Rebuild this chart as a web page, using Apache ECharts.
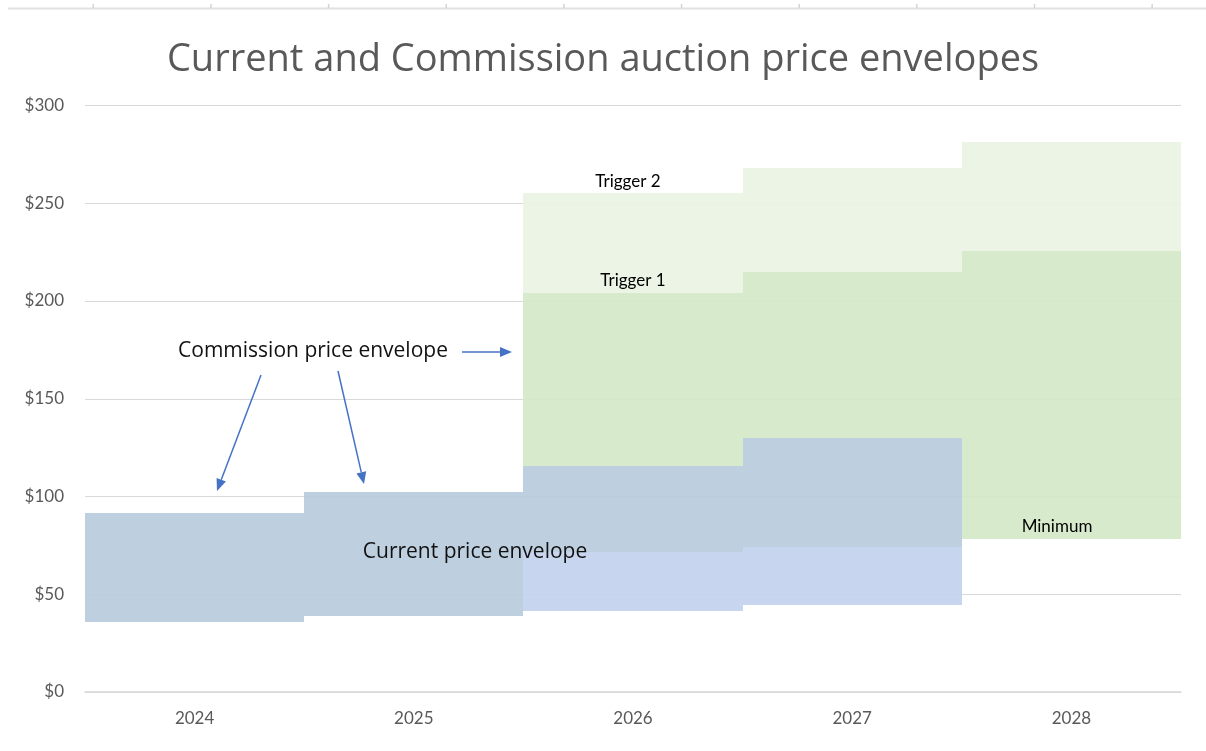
<!DOCTYPE html>
<html>
<head>
<meta charset="utf-8">
<script src="https://cdn.jsdelivr.net/npm/echarts@6/dist/echarts.min.js"></script>
<style>
  html, body { margin: 0; padding: 0; background: #fff; }
  #main { width: 1206px; height: 751px; }
</style>
</head>
<body>
<div id="main"></div>
<script>
// years on the x axis
var years = ['2024', '2025', '2026', '2027', '2028'];
var yTicks = [0, 50, 100, 150, 200, 250, 300];

// current price envelope (low / high), none for 2028
var currentLow  = [35.9, 38.9, 41.6, 44.5, null];
var currentHigh = [91.4, 102.4, 115.7, 129.7, null];

// commission envelope: same as current for 2024-25
var commissionMin = [35.9, 38.9, 71.7, 74.3, 78.4];
var trigger1      = [91.4, 102.4, 204.1, 214.6, 225.6];
var trigger2      = [null, null, 255.0, 268.0, 281.3];

// split everything into non overlapping pieces [index, low, high]
var onlyCurrent = [];   // current price below the commission minimum
var bothEnv = [];       // current and commission overlap
var greenPart = [];     // commission min -> trigger 1 (not covered by current)
var lightPart = [];     // trigger 1 -> trigger 2
for (var i = 0; i < years.length; i++) {
    var cl = currentLow[i], ch = currentHigh[i];
    var cm = commissionMin[i], t1 = trigger1[i], t2 = trigger2[i];
    if (cl != null) {
        if (cm > cl) onlyCurrent.push([i, cl, Math.min(cm, ch)]);
        var lo = Math.max(cl, cm), hi = Math.min(ch, t1);
        if (hi > lo) bothEnv.push([i, lo, hi]);
        if (t1 > ch) greenPart.push([i, Math.max(ch, cm), t1]);
    } else {
        greenPart.push([i, cm, t1]);
    }
    if (t2 != null) lightPart.push([i, t1, t2]);
}

function bandSeries(name, data, color) {
    return {
        name: name,
        type: 'custom',
        data: data,
        encode: { x: 0, y: [1, 2] },
        renderItem: function (params, api) {
            var p0 = api.coord([api.value(0), api.value(1)]);
            var p1 = api.coord([api.value(0), api.value(2)]);
            var w = api.size([1, 0])[0];
            // snap to whole pixels so neighbouring blocks join without seams
            var x0 = Math.round(p0[0] - w / 2), x1 = Math.round(p0[0] + w / 2);
            var yTop = Math.round(p1[1]), yBot = Math.round(p0[1]);
            return {
                type: 'rect',
                shape: { x: x0, y: yTop, width: x1 - x0, height: yBot - yTop },
                style: { fill: color }
            };
        }
    };
}

var chart = echarts.init(document.getElementById('main'));

var ticksTop = [];
for (var k = 0; k < 10; k++) {
    var tx = 93.3 + k * 117.65;
    ticksTop.push({ type: 'line', shape: { x1: tx, y1: 4, x2: tx, y2: 8 }, style: { stroke: '#d4d4d4', lineWidth: 1.5 } });
}

var arrowColor = '#4472c4';
function arrow(x1, y1, x2, y2) {
    var ang = Math.atan2(y2 - y1, x2 - x1);
    var len = 12, half = 5;
    var bx = x2 - len * Math.cos(ang), by = y2 - len * Math.sin(ang);
    var nx = -Math.sin(ang) * half, ny = Math.cos(ang) * half;
    return [
        { type: 'line', shape: { x1: x1, y1: y1, x2: bx, y2: by }, style: { stroke: arrowColor, lineWidth: 1.5 } },
        { type: 'polygon', shape: { points: [[x2, y2], [bx + nx, by + ny], [bx - nx, by - ny]] }, style: { fill: arrowColor } }
    ];
}

var notes = [
    { type: 'line', shape: { x1: 8, y1: 8.5, x2: 1206, y2: 8.5 }, style: { stroke: '#e0e0e0', lineWidth: 2 } }
].concat(ticksTop).concat([
    { type: 'text', x: 628, y: 182, style: { text: 'Trigger 2', fill: '#000', font: '17px Lato', align: 'center', verticalAlign: 'middle' } },
    { type: 'text', x: 633, y: 281, style: { text: 'Trigger 1', fill: '#000', font: '17px Lato', align: 'center', verticalAlign: 'middle' } },
    { type: 'text', x: 1057, y: 527, style: { text: 'Minimum', fill: '#000', font: '17px Lato', align: 'center', verticalAlign: 'middle' } },
    { type: 'text', x: 475, y: 552, style: { text: 'Current price envelope', fill: '#111', font: '21px "Open Sans"', align: 'center', verticalAlign: 'middle' } },
    { type: 'text', x: 313, y: 351, style: { text: 'Commission price envelope', fill: '#111', font: '21px "Open Sans"', align: 'center', verticalAlign: 'middle' } }
]).concat(arrow(462, 352, 512, 352))
  .concat(arrow(261, 375, 217, 491))
  .concat(arrow(338, 371, 364, 484));
notes.forEach(function (g) { g.z = 100; });

var option = {
    backgroundColor: '#fff',
    animation: false,
    title: {
        text: 'Current and Commission auction price envelopes',
        left: 'center',
        top: 36,
        textStyle: { fontFamily: 'Open Sans', fontSize: 38, fontWeight: 'normal', color: '#595959' }
    },
    grid: { left: 85, right: 25, top: 105.5, bottom: 59 },
    xAxis: {
        type: 'category',
        data: years,
        boundaryGap: true,
        axisLine: { show: true, lineStyle: { color: '#d9d9d9', width: 1.5 } },
        axisTick: { show: false },
        axisLabel: { color: '#595959', fontFamily: 'Lato', fontSize: 17, margin: 18 }
    },
    yAxis: {
        type: 'value',
        min: yTicks[0],
        max: yTicks[yTicks.length - 1],
        interval: 50,
        axisLine: { show: false },
        axisTick: { show: false },
        splitLine: { lineStyle: { color: '#d9d9d9', width: 1 } },
        axisLabel: {
            color: '#595959', fontFamily: 'Lato', fontSize: 17, margin: 21,
            formatter: function (v) { return '$' + v; }
        }
    },
    series: [
        bandSeries('Trigger 2', lightPart, 'rgba(234,243,227,0.9)'),
        bandSeries('Trigger 1', greenPart, 'rgba(212,232,198,0.9)'),
        bandSeries('Current price envelope', onlyCurrent, 'rgba(193,209,236,0.9)'),
        bandSeries('Commission price envelope', bothEnv, 'rgba(183,203,221,0.9)')
    ],
    graphic: notes
};

chart.setOption(option);
</script>
</body>
</html>
